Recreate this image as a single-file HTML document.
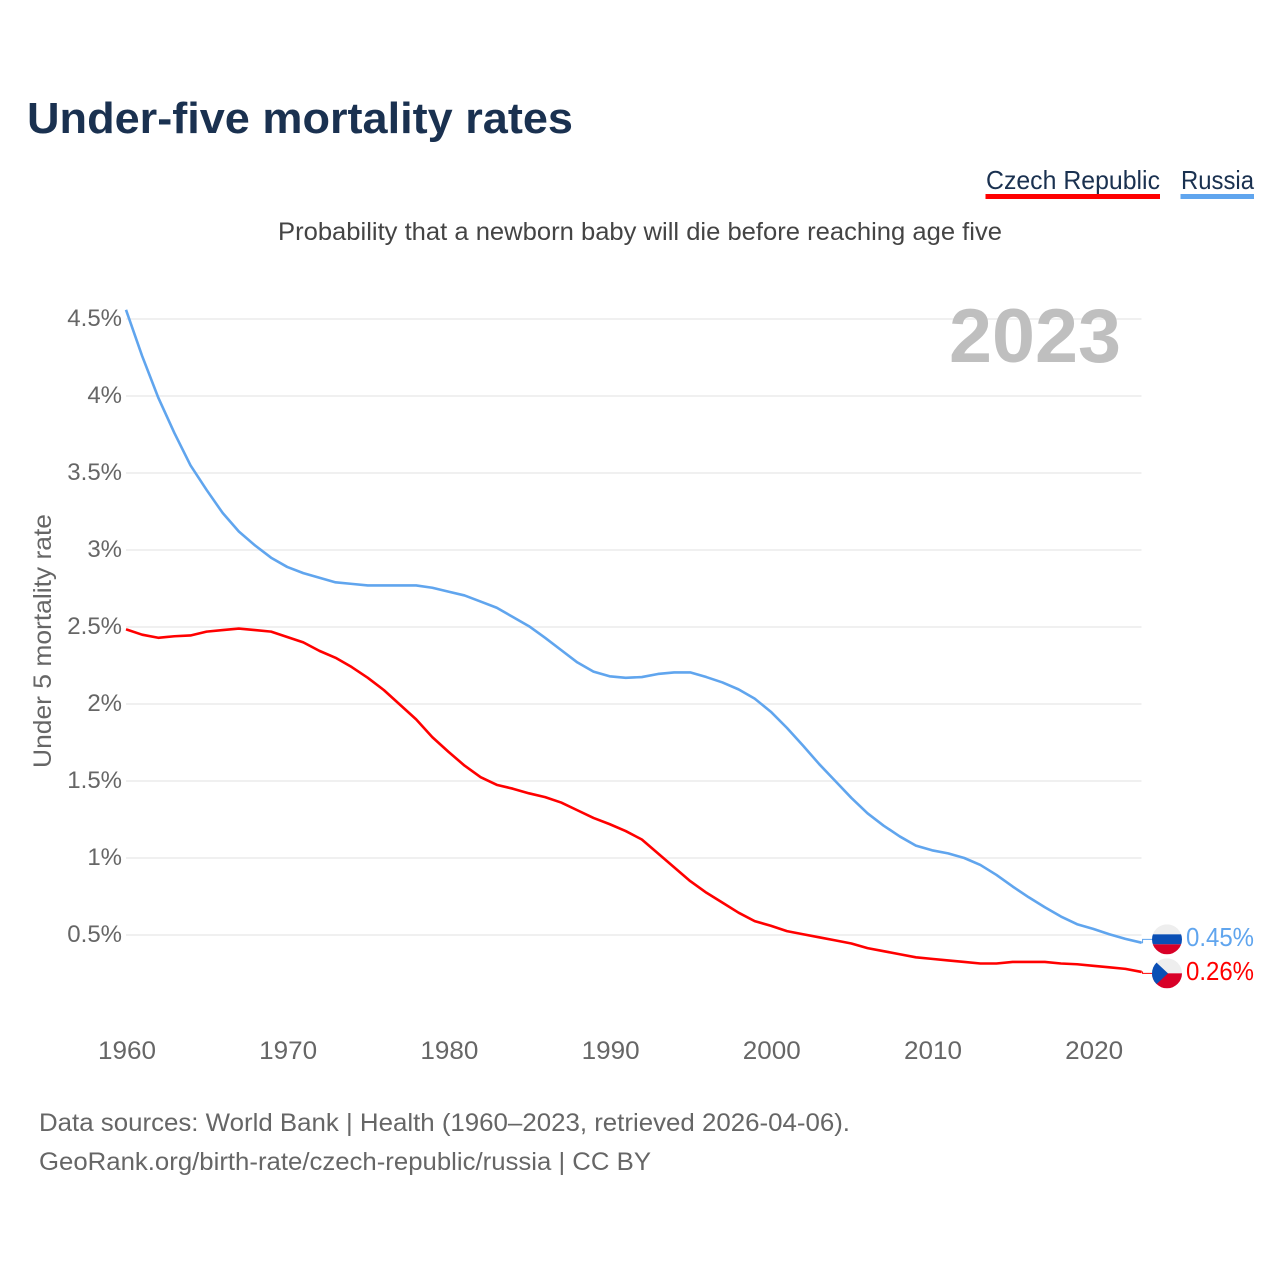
<!DOCTYPE html>
<html lang="en">
<head>
<meta charset="utf-8">
<title>Under-five mortality rates</title>
<style>
html,body{margin:0;padding:0;background:#fff;}
svg{display:block;font-family:"Liberation Sans",sans-serif;}
</style>
</head>
<body>
<svg id="chart" xmlns="http://www.w3.org/2000/svg" width="1280" height="1280" viewBox="0 0 1280 1280">
  <defs>
    <clipPath id="clip-ru"><circle id="clip-ru-c" r="15"></circle></clipPath>
    <clipPath id="clip-cz"><circle id="clip-cz-c" r="15"></circle></clipPath>
  </defs>
  <text x="27" y="133" font-size="44" font-weight="700" fill="#1a3150" textLength="546" lengthAdjust="spacingAndGlyphs">Under-five mortality rates</text>
  <text x="986" y="189" font-size="26" fill="#1a3150" textLength="174" lengthAdjust="spacingAndGlyphs">Czech Republic</text>
  <rect x="985.5" y="194" width="174.5" height="5" fill="#ff0000"></rect>
  <text x="1181" y="189" font-size="26" fill="#1a3150" textLength="73" lengthAdjust="spacingAndGlyphs">Russia</text>
  <rect x="1180.5" y="194" width="73.5" height="5" fill="#60a5ee"></rect>
  <text x="278" y="240" font-size="25" fill="#444444" textLength="724" lengthAdjust="spacingAndGlyphs">Probability that a newborn baby will die before reaching age five</text>
  <text transform="translate(51,768) rotate(-90)" font-size="25" fill="#666666" textLength="254" lengthAdjust="spacingAndGlyphs">Under 5 mortality rate</text>
  <g id="grid"></g>
  <text x="949" y="362" font-size="76" font-weight="700" fill="#bfbfbf" textLength="172" lengthAdjust="spacingAndGlyphs">2023</text>
  <g id="ylabels"></g>
  <g id="xlabels"></g>
  <g id="series"></g>
  <g id="ends"></g>
  <text x="39" y="1131" font-size="25" fill="#666666" textLength="811" lengthAdjust="spacingAndGlyphs">Data sources: World Bank | Health (1960–2023, retrieved 2026-04-06).</text>
  <text x="39" y="1170" font-size="25" fill="#666666" textLength="612" lengthAdjust="spacingAndGlyphs">GeoRank.org/birth-rate/czech-republic/russia | CC BY</text>
</svg>
<script>
const startYear = 1960;
const russiaValues = [4.56,4.26,3.99,3.76,3.55,3.39,3.24,3.12,3.03,2.95,2.89,2.85,2.82,2.79,2.78,2.77,2.77,2.77,2.77,2.755,2.73,2.705,2.665,2.625,2.565,2.505,2.43,2.35,2.27,2.21,2.18,2.17,2.175,2.195,2.205,2.205,2.175,2.14,2.095,2.035,1.95,1.845,1.73,1.61,1.5,1.39,1.29,1.21,1.14,1.08,1.05,1.03,1.0,0.955,0.89,0.815,0.745,0.68,0.62,0.57,0.54,0.505,0.475,0.45];
const czechValues = [2.485,2.45,2.43,2.44,2.445,2.47,2.48,2.49,2.48,2.47,2.435,2.4,2.345,2.3,2.24,2.17,2.09,1.995,1.9,1.785,1.69,1.6,1.525,1.475,1.45,1.42,1.395,1.36,1.31,1.26,1.22,1.175,1.12,1.03,0.94,0.85,0.775,0.71,0.645,0.59,0.56,0.525,0.505,0.485,0.465,0.445,0.415,0.395,0.375,0.355,0.345,0.335,0.325,0.315,0.315,0.325,0.325,0.325,0.315,0.31,0.3,0.29,0.28,0.26];
const yTickValues = [0.5,1,1.5,2,2.5,3,3.5,4,4.5];
const xTickValues = [1960,1970,1980,1990,2000,2010,2020];

const NS = 'http://www.w3.org/2000/svg';
const xScale = year => 126 + (year - 1960) * 16.12;
const yScale = value => 1012 - value * 154;
const plotRight = xScale(2023);
const fmt = v => String(v) + '%';

function make(tag, attrs, text) {
  const el = document.createElementNS(NS, tag);
  for (const k in attrs) el.setAttribute(k, attrs[k]);
  if (text !== undefined) el.textContent = text;
  return el;
}

const grid = document.getElementById('grid');
const ylabels = document.getElementById('ylabels');
yTickValues.forEach(v => {
  const line = make('line', {x1: 126, x2: 1141.5, y1: yScale(v), y2: yScale(v), stroke: '#f0f0f0', 'stroke-width': 2});
  
  
  grid.appendChild(line);
  const label = make('text', {x: 122, y: yScale(v) + 7, 'text-anchor': 'end', 'font-size': 24, fill: '#666666'}, fmt(v));
  
  
  ylabels.appendChild(label);
});

const xlabels = document.getElementById('xlabels');
xTickValues.forEach(year => {
  const label = make('text', {x: xScale(year) + 1, y: 1059, 'text-anchor': 'middle', 'font-size': 25, fill: '#666666', textLength: 58, lengthAdjust: 'spacingAndGlyphs'}, String(year));
  
  
  xlabels.appendChild(label);
});

function linePath(values) {
  return values.map((v, i) => (i ? 'L' : 'M') + xScale(startYear + i).toFixed(2) + ' ' + yScale(v).toFixed(2)).join(' ');
}

const series = document.getElementById('series');
const russiaLine = make('path', {d: linePath(russiaValues), fill: 'none', stroke: '#60a5ee', 'stroke-width': 2.6, 'stroke-linejoin': 'round'});


series.appendChild(russiaLine);
const czechLine = make('path', {d: linePath(czechValues), fill: 'none', stroke: '#ff0000', 'stroke-width': 2.6, 'stroke-linejoin': 'round'});


series.appendChild(czechLine);

/* End labels: centred near their line ends, pushed apart so flags do not collide */
const ends = document.getElementById('ends');
const ruEnd = yScale(russiaValues[russiaValues.length - 1]);
const czEnd = yScale(czechValues[czechValues.length - 1]);
const mid = (ruEnd + czEnd) / 2;
const gap = Math.max(34, czEnd - ruEnd);
const ruY = mid - gap / 2 - 1;
const czY = mid + gap / 2 - 1;
const flagX = 1167;

function connector(name, color, y0, y1) {
  const p = make('path', {d: 'M' + plotRight + ' ' + y0 + ' L' + (plotRight + 1) + ' ' + y0 + ' L' + (plotRight + 1) + ' ' + y1 + ' L1153 ' + y1, fill: 'none', stroke: color, 'stroke-width': 1});
  
  
  ends.appendChild(p);
}
connector('connector-russia', '#60a5ee', ruEnd, ruY);
connector('connector-czech-republic', '#ff0000', czEnd, czY);

/* Russia flag */
document.getElementById('clip-ru-c').setAttribute('cx', flagX);
document.getElementById('clip-ru-c').setAttribute('cy', ruY);
const ruFlag = make('g', {'clip-path': 'url(#clip-ru)'});


ruFlag.appendChild(make('rect', {x: flagX - 15, y: ruY - 15, width: 30, height: 10, fill: '#eeeeee'}));
ruFlag.appendChild(make('rect', {x: flagX - 15, y: ruY - 5, width: 30, height: 10, fill: '#0a4fb5'}));
ruFlag.appendChild(make('rect', {x: flagX - 15, y: ruY + 5, width: 30, height: 10, fill: '#d80027'}));
ends.appendChild(ruFlag);

/* Czech flag */
document.getElementById('clip-cz-c').setAttribute('cx', flagX);
document.getElementById('clip-cz-c').setAttribute('cy', czY);
const czFlag = make('g', {'clip-path': 'url(#clip-cz)'});


czFlag.appendChild(make('rect', {x: flagX - 15, y: czY - 15, width: 30, height: 15, fill: '#eeeeee'}));
czFlag.appendChild(make('rect', {x: flagX - 15, y: czY, width: 30, height: 15, fill: '#d80027'}));
czFlag.appendChild(make('path', {d: 'M' + (flagX - 15) + ' ' + (czY - 15) + ' L' + (flagX + 1) + ' ' + czY + ' L' + (flagX - 15) + ' ' + (czY + 15) + ' Z', fill: '#0a4fb5'}));
ends.appendChild(czFlag);

const ruLabel = make('text', {x: 1186, y: ruY + 6.5, 'font-size': 26, fill: '#60a5ee', textLength: 68, lengthAdjust: 'spacingAndGlyphs'}, fmt(russiaValues[russiaValues.length - 1].toFixed(2)));


ends.appendChild(ruLabel);
const czLabel = make('text', {x: 1186, y: czY + 6.5, 'font-size': 26, fill: '#ff0000', textLength: 68, lengthAdjust: 'spacingAndGlyphs'}, fmt(czechValues[czechValues.length - 1].toFixed(2)));


ends.appendChild(czLabel);
</script>
</body>
</html>
